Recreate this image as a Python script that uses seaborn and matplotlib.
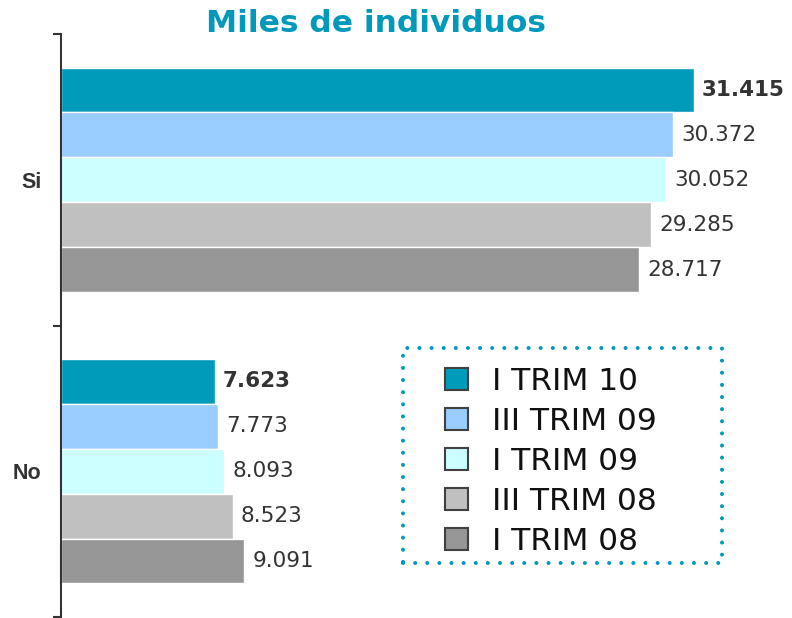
import pandas as pd
import seaborn as sns
import matplotlib.pyplot as plt
from matplotlib.patches import Rectangle
from matplotlib.ticker import FixedLocator

# Data (miles de individuos)
categorias = ["Si", "No"]
periodos = ["I TRIM 10", "III TRIM 09", "I TRIM 09", "III TRIM 08", "I TRIM 08"]
valores_si = [31415, 30372, 30052, 29285, 28717]
valores_no = [7623, 7773, 8093, 8523, 9091]
colores = ["#009BBB", "#99CCFF", "#CCFFFF", "#C0C0C0", "#969696"]

rows = []
for p, vs, vn in zip(periodos, valores_si, valores_no):
    rows.append({"categoria": "Si", "periodo": p, "valor": vs})
    rows.append({"categoria": "No", "periodo": p, "valor": vn})
df = pd.DataFrame(rows)

sns.set_style("white")
plt.rcParams["font.family"] = ["DejaVu Sans"]

fig = plt.figure(figsize=(7.92, 6.18), dpi=100)
ax = fig.add_axes([61 / 792, 1 / 618, 731 / 792, 583 / 618])

sns.barplot(data=df, y="categoria", x="valor", hue="periodo", order=categorias,
            hue_order=periodos, palette=colores, saturation=1, orient="h",
            width=0.77, edgecolor="white", linewidth=1, ax=ax, legend=True)

ax.set_xlim(0, 36300)
ax.set_ylim(1.5, -0.5)
ax.set_xlabel("")
ax.set_ylabel("")
ax.set_xticks([])

for s in ["top", "right", "bottom"]:
    ax.spines[s].set_visible(False)
ax.spines["left"].set_color("#333333")
ax.spines["left"].set_linewidth(1.5)

# category labels, ticks at the group boundaries
ax.tick_params(axis="y", which="major", left=True, length=0, pad=14)
ax.yaxis.set_minor_locator(FixedLocator([-0.5, 0.5, 1.5]))
ax.tick_params(axis="y", which="minor", left=True, length=6, width=1.5,
               color="#333333", direction="out")
for lab in ax.get_yticklabels():
    lab.set_fontfamily("Liberation Sans")
    lab.set_fontweight("bold")
    lab.set_fontsize(15.5)
    lab.set_color("#333333")

# value labels
for i, cont in enumerate(ax.containers):
    labs = [f"{int(b.get_width()):,}".replace(",", ".") for b in cont]
    ax.bar_label(cont, labels=labs, padding=6, fontsize=15.5, color="#333333",
                 fontweight="bold" if i == 0 else "normal")

# legend
handles, labels = ax.get_legend_handles_labels()
ax.get_legend().remove()
for h in handles:
    h.set_edgecolor("#404040")
    h.set_linewidth(1.5)
leg = fig.legend(handles, labels, loc="upper left",
                 bbox_to_anchor=(445 / 792, 1 - 367 / 618), frameon=False,
                 fontsize=22.5, labelcolor="#111111", borderpad=0, borderaxespad=0,
                 handlelength=0.72, handleheight=0.72,
                 handletextpad=0.8, labelspacing=0.35)

box = Rectangle((403 / 792, 1 - 563 / 618), 319 / 792, 215 / 618,
                transform=fig.transFigure, fill=False, edgecolor="#0099BB",
                linewidth=2.9, linestyle=(0, (0.01, 3)), capstyle="round")
fig.patches.append(box)

fig.text(376 / 792, 1 - 24 / 618, "Miles de individuos", ha="center", va="center",
         fontsize=22.5, fontweight="bold", color="#0099BB")

fig.savefig("out.png", dpi=100)
